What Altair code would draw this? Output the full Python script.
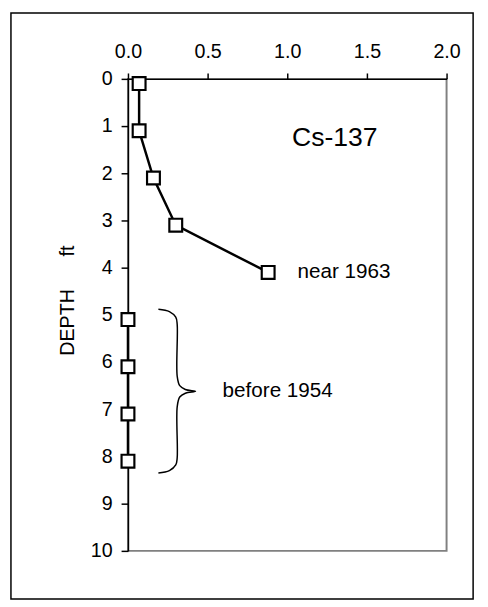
import altair as alt
import pandas as pd

# ---- data ----
depth = [0.1, 1.1, 2.1, 3.1, 4.1, 5.1, 6.1, 7.1, 8.1]
cs137 = [0.07, 0.07, 0.16, 0.30, 0.88, 0.0, 0.0, 0.0, 0.0]
segment = ["upper", "upper", "upper", "upper", "upper", "lower", "lower", "lower", "lower"]

x_ticks = [0.0, 0.5, 1.0, 1.5, 2.0]
y_ticks = [0, 1, 2, 3, 4, 5, 6, 7, 8, 9, 10]

# curly brace annotation (data coordinates)
brace_x = [0.191, 0.26, 0.300, 0.309, 0.309, 0.325, 0.36, 0.424, 0.36, 0.325, 0.309, 0.309, 0.300, 0.26, 0.191]
brace_y = [4.88, 4.93, 5.05, 5.20, 6.30, 6.50, 6.58, 6.62, 6.66, 6.74, 6.95, 8.03, 8.18, 8.30, 8.35]

label_text = ["Cs-137", "near 1963", "before 1954"]
label_x = [1.03, 1.064, 0.594]
label_y = [1.42, 4.21, 6.74]
label_size = [27, 21, 21]

y_title = "DEPTH" + "\u00a0" * 6 + "ft"

FONT = "Liberation Sans"

df = pd.DataFrame({"x": cs137, "y": depth, "seg": segment})
brace = pd.DataFrame({"x": brace_x, "y": brace_y, "i": list(range(len(brace_x)))})
labels = pd.DataFrame({"x": label_x, "y": label_y, "t": label_text, "fs": label_size})

xenc = alt.X(
    "x:Q",
    scale=alt.Scale(domain=[0, 2], nice=False, zero=False),
    axis=alt.Axis(
        orient="top", values=x_ticks, format=".1f", tickSize=6, labelPadding=12,
        labelFlush=False, title=None,
    ),
)
yenc = alt.Y(
    "y:Q",
    scale=alt.Scale(domain=[0, 10], reverse=True, nice=False, zero=False),
    axis=alt.Axis(
        values=y_ticks, format="d", tickSize=7, labelPadding=9, labelFlush=False,
        title=y_title, titleX=-51, titleY=225,
    ),
)

border = alt.Chart(alt.Data(values=[{"a": 1}])).mark_rect(
    fill="white", fillOpacity=0, stroke="black", strokeWidth=1.5
).encode(
    x=alt.value(-119), x2=alt.value(351), y=alt.value(-67), y2=alt.value(529)
)

lines = alt.Chart(df).mark_line(color="black", strokeWidth=2.5).encode(
    x=xenc, y=yenc, detail="seg:N", order="y:Q"
)

points = alt.Chart(df).mark_point(
    shape="square", filled=True, fill="white", stroke="black", strokeWidth=2.2,
    size=170, opacity=1
).encode(x=xenc, y=yenc)

brace_line = alt.Chart(brace).mark_line(
    color="black", strokeWidth=1.5, interpolate="catmull-rom"
).encode(x=xenc, y=yenc, order="i:Q")

texts = alt.Chart(labels).mark_text(
    align="left", baseline="alphabetic", font=FONT, color="black"
).encode(
    x=xenc, y=yenc, text="t:N", size=alt.Size("fs:Q", scale=None, legend=None)
)

chart = alt.layer(border, lines, brace_line, points, texts).properties(
    width=324,
    height=480,
    padding={"left": 122, "top": 67, "right": 34, "bottom": 52},
    autosize=alt.AutoSizeParams(type="none"),
    background="white",
).configure_view(
    stroke="#808080", strokeWidth=2
).configure_axis(
    domainColor="black", tickColor="black", labelColor="black", titleColor="black",
    labelFont=FONT, titleFont=FONT, labelFontSize=20, titleFontSize=20,
    titleFontWeight="normal", grid=False, domainWidth=1.5, tickWidth=1.5,
)

chart.save("out.html", embed_options={"renderer": "svg", "actions": False})
